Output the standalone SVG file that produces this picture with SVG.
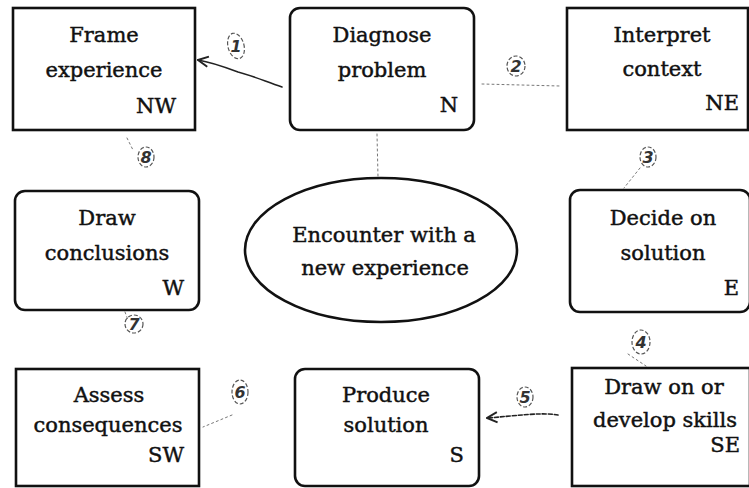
<svg xmlns="http://www.w3.org/2000/svg" width="749" height="488" viewBox="0 0 749 488">
<defs>
<style>
.box{fill:#fff;stroke:#111;stroke-width:2.6}
.t{font-family:"DejaVu Serif","Liberation Serif",serif;font-size:21px;fill:#111;stroke:#111;stroke-width:0.45;text-anchor:middle}
.c{font-family:"DejaVu Serif","Liberation Serif",serif;font-size:21px;fill:#111;stroke:#111;stroke-width:0.45;text-anchor:end}
.pen{fill:none;stroke:#222;stroke-width:1.6;stroke-linecap:round}
.dot{fill:none;stroke:#777;stroke-width:1;stroke-dasharray:2 3;stroke-linecap:round}
.num{font-family:"DejaVu Sans",sans-serif;font-size:16px;font-style:italic;font-weight:bold;fill:#333;text-anchor:middle}
.ring{fill:none;stroke:#555;stroke-width:1.2;stroke-dasharray:4 2}
</style>
<marker id="ah" viewBox="0 0 10 10" refX="9" refY="5" markerWidth="8" markerHeight="8" orient="auto">
<path d="M1,1 L9,5 L1,9" fill="none" stroke="#222" stroke-width="1.5"/>
</marker>
</defs>
<rect width="749" height="488" fill="#fff"/>

<g id="connectors">
<path class="pen" d="M282,87 C262,80 250,75 238,72 C222,66 210,62 198,60" marker-end="url(#ah)"/>
<path class="dot" d="M482,84 L560,86"/>
<path class="dot" d="M640,168 L624,188"/>
<path class="dot" d="M628,354 L646,366"/>
<path class="pen" stroke-dasharray="4 2" d="M558,415 C540,412 515,416 487,418" marker-end="url(#ah)"/>
<path class="dot" d="M232,415 L203,427"/>
<path class="dot" d="M125,312 L128,320"/>
<path class="dot" d="M127,138 L133,150"/>
<path class="dot" d="M377,134 L378,177"/>
<g>
<ellipse class="ring" cx="236" cy="46" rx="8" ry="13" transform="rotate(-15 236 46)"/><text class="num" x="236" y="52">1</text>
<ellipse class="ring" cx="516" cy="66" rx="9" ry="10"/><text class="num" x="516" y="72">2</text>
<ellipse class="ring" cx="648" cy="157" rx="8" ry="10"/><text class="num" x="648" y="163">3</text>
<ellipse class="ring" cx="641" cy="342" rx="9" ry="12"/><text class="num" x="641" y="348">4</text>
<ellipse class="ring" cx="525" cy="397" rx="8" ry="10"/><text class="num" x="525" y="403">5</text>
<ellipse class="ring" cx="240" cy="392" rx="8" ry="12"/><text class="num" x="240" y="398">6</text>
<ellipse class="ring" cx="134" cy="324" rx="9" ry="9"/><text class="num" x="134" y="330">7</text>
<ellipse class="ring" cx="146" cy="157" rx="8" ry="10"/><text class="num" x="146" y="163">8</text>
</g>
</g>

<g id="nw">
<rect class="box" x="13" y="8" width="182" height="122"/>
<text class="t" x="104" y="42">Frame</text>
<text class="t" x="104" y="77">experience</text>
<text class="c" x="176" y="113">NW</text>
</g>
<g id="n">
<rect class="box" x="290" y="8" width="184" height="122" rx="10"/>
<text class="t" x="382" y="42">Diagnose</text>
<text class="t" x="382" y="77">problem</text>
<text class="c" x="458" y="112">N</text>
</g>
<g id="ne">
<rect class="box" x="567" y="8" width="181" height="122"/>
<text class="t" x="662" y="42">Interpret</text>
<text class="t" x="662" y="76">context</text>
<text class="c" x="739" y="110">NE</text>
</g>
<g id="w">
<rect class="box" x="15" y="191" width="184" height="119" rx="10"/>
<text class="t" x="107" y="225">Draw</text>
<text class="t" x="107" y="260">conclusions</text>
<text class="c" x="184" y="295">W</text>
</g>
<g id="center">
<ellipse class="box" cx="381" cy="250" rx="136" ry="72"/>
<text class="t" x="384" y="242">Encounter with a</text>
<text class="t" x="385" y="275">new experience</text>
</g>
<g id="e">
<rect class="box" x="570" y="190" width="180" height="122" rx="10"/>
<text class="t" x="663" y="225">Decide on</text>
<text class="t" x="663" y="260">solution</text>
<text class="c" x="739" y="295">E</text>
</g>
<g id="sw">
<rect class="box" x="16" y="369" width="183" height="117"/>
<text class="t" x="109" y="402">Assess</text>
<text class="t" x="108" y="432">consequences</text>
<text class="c" x="184" y="462">SW</text>
</g>
<g id="s">
<rect class="box" x="295" y="369" width="184" height="117" rx="10"/>
<text class="t" x="386" y="402">Produce</text>
<text class="t" x="386" y="432">solution</text>
<text class="c" x="464" y="462">S</text>
</g>
<g id="se">
<rect class="box" x="572" y="368" width="178" height="118"/>
<text class="t" x="664" y="394">Draw on or</text>
<text class="t" x="665" y="427">develop skills</text>
<text class="c" x="740" y="452">SE</text>
</g>
</svg>
